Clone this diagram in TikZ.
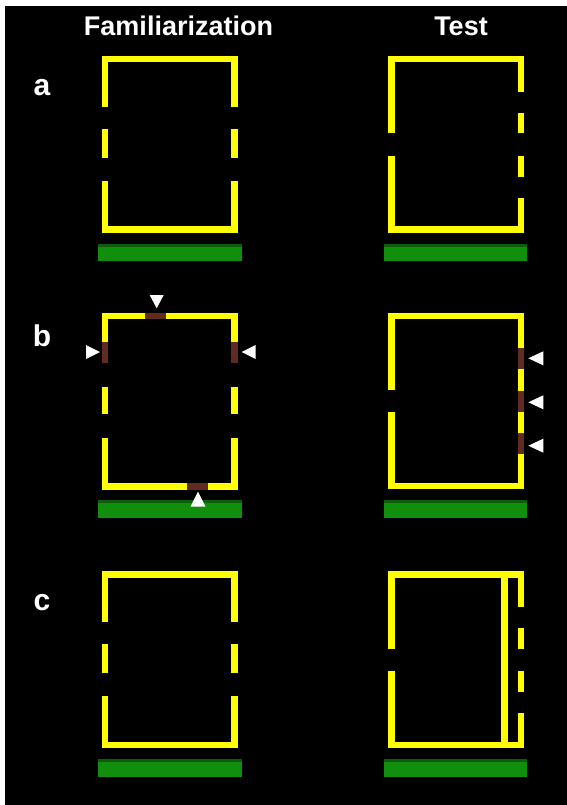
\documentclass[tikz,border=0pt]{standalone}
\usepackage{fontspec}
\setmainfont{Liberation Sans}
\definecolor{wallyellow}{RGB}{255,255,0}
\definecolor{markbrown}{RGB}{96,44,34}
\definecolor{floorgreen}{RGB}{18,142,14}
\definecolor{floordark}{RGB}{10,95,8}
\begin{document}
\begin{tikzpicture}[x=1pt,y=-1pt,
  wall/.style={draw=wallyellow, line width=6.5pt, line join=miter, line cap=butt},
  brownpatch/.style={draw=markbrown, line width=6.5pt, line cap=butt},
  arrowtri/.style={fill=white},
  title/.style={text=white, font=\bfseries\fontsize{27}{30}\selectfont, anchor=base, inner sep=0pt},
  rowlabel/.style={text=white, font=\bfseries\fontsize{30}{34}\selectfont, anchor=base, inner sep=0pt}]
\useasboundingbox (0,0) rectangle (566,805);
\fill[white] (0,0) rectangle (566,805);
\fill[black] (5,6) rectangle (575,815);

% titles and row labels
\node[title] (famtitle) at (178.5,36) {Familiarization};
\node[title] (testtitle) at (461,36) {Test};
\node[rowlabel] (la) at (42,96) {a};
\node[rowlabel] (lb) at (42,346) {b};
\node[rowlabel] (lc) at (42,610) {c};

% floor bars
\newcommand{\floorbar}[4]{%
  \fill[floorgreen] (#1,#2) rectangle (#3,#4);
  \fill[floordark] (#1,#2) rectangle (#3,#2+3);}
\floorbar{98.3}{244}{241.7}{261}
\floorbar{384.3}{244}{527.3}{261}
\floorbar{98.3}{500}{241.7}{518}
\floorbar{384.3}{500}{527.3}{518}
\floorbar{98.3}{759}{241.7}{776.7}
\floorbar{384.3}{759}{527.3}{776.7}

% ---------- row a ----------
% familiarization
\draw[wall] (105,106.7) -- (105,59) -- (234.5,59) -- (234.5,106.7);
\draw[wall] (105,129) -- (105,158.3);
\draw[wall] (234.5,129) -- (234.5,158.3);
\draw[wall] (105,181) -- (105,229.5) -- (234.5,229.5) -- (234.5,181);
% test
\draw[wall] (391.3,133.3) -- (391.3,59) -- (520.8,59) -- (520.8,91.7);
\draw[wall] (520.8,112.7) -- (520.8,133.3);
\draw[wall] (520.8,155.7) -- (520.8,176.7);
\draw[wall] (391.3,155.7) -- (391.3,229.5) -- (520.8,229.5) -- (520.8,198.3);

% ---------- row b ----------
% familiarization
\draw[wall] (105,363.3) -- (105,316) -- (234.5,316) -- (234.5,363.3);
\draw[wall] (105,386.7) -- (105,414.3);
\draw[wall] (234.5,386.7) -- (234.5,414.3);
\draw[wall] (105,437.7) -- (105,486.7) -- (234.5,486.7) -- (234.5,437.7);
\draw[brownpatch] (145,316) -- (166,316);
\draw[brownpatch] (186.7,486.7) -- (207.7,486.7);
\draw[brownpatch] (105,341.7) -- (105,363.3);
\draw[brownpatch] (234.5,341.7) -- (234.5,363.3);
\fill[arrowtri] (149.7,295) -- (163.7,295) -- (156.7,308.3) -- cycle;
\fill[arrowtri] (86,345) -- (86,359) -- (100,352) -- cycle;
\fill[arrowtri] (255.7,345) -- (255.7,359) -- (241.7,352) -- cycle;
\fill[arrowtri] (190.5,506.7) -- (205.5,506.7) -- (198,491.7) -- cycle;
% test
\draw[wall] (391.3,390) -- (391.3,316) -- (520.8,316) -- (520.8,486) -- (391.3,486) -- (391.3,412.3);
\draw[brownpatch] (520.8,347.7) -- (520.8,369);
\draw[brownpatch] (520.8,390.7) -- (520.8,412.3);
\draw[brownpatch] (520.8,433.3) -- (520.8,454.3);
\fill[arrowtri] (543.3,351.3) -- (543.3,365.3) -- (528.3,358.3) -- cycle;
\fill[arrowtri] (543.3,395.3) -- (543.3,409.3) -- (528.3,402.3) -- cycle;
\fill[arrowtri] (543.3,438.7) -- (543.3,452.7) -- (528.3,445.7) -- cycle;

% ---------- row c ----------
% familiarization
\draw[wall] (105,621.7) -- (105,574.3) -- (234.5,574.3) -- (234.5,621.7);
\draw[wall] (105,644.3) -- (105,673.3);
\draw[wall] (234.5,644.3) -- (234.5,673.3);
\draw[wall] (105,696) -- (105,745) -- (234.5,745) -- (234.5,696);
% test
\draw[wall] (391.3,649) -- (391.3,574.3) -- (520.8,574.3) -- (520.8,606.7);
\draw[wall] (520.8,627.7) -- (520.8,649);
\draw[wall] (520.8,671) -- (520.8,691.7);
\draw[wall] (391.3,671) -- (391.3,745) -- (520.8,745) -- (520.8,712.7);
\draw[wall] (504.7,574.3) -- (504.7,745);
\end{tikzpicture}
\end{document}
